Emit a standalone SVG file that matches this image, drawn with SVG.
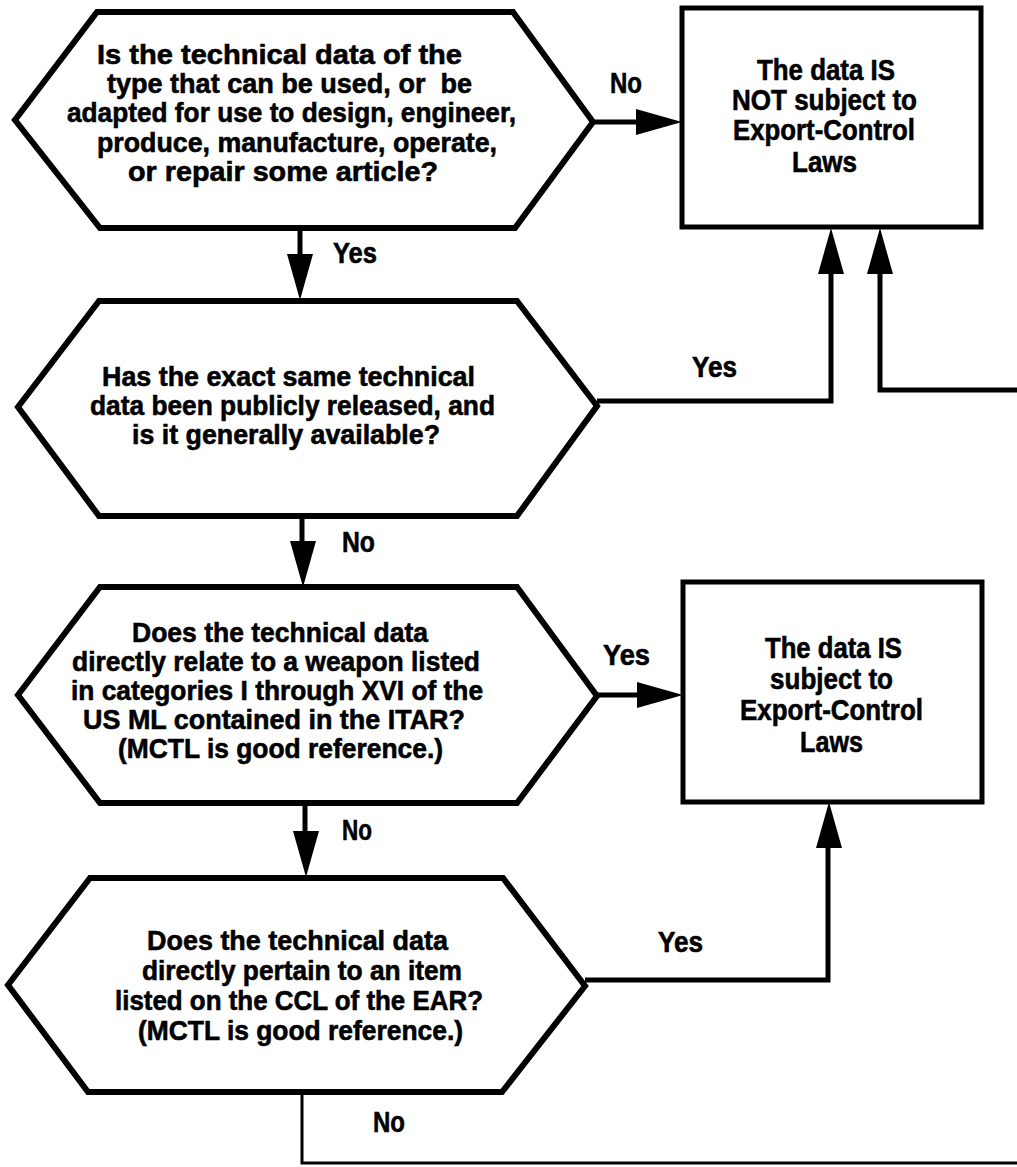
<svg xmlns="http://www.w3.org/2000/svg" xmlns:xlink="http://www.w3.org/1999/xlink" width="1017" height="1167" viewBox="0 0 1017 1167">
  <style>
    .shape { fill: #fff; stroke: #000; stroke-width: 6; stroke-linejoin: miter; }
    .box { fill: #fff; stroke: #000; stroke-width: 5; }
    .wire { fill: none; stroke: #000; stroke-width: 5; stroke-linejoin: miter; }
    .thin { fill: none; stroke: #000; stroke-width: 3; }
    .head { fill: #000; }
    text { font-family: "Liberation Sans", Arial, Helvetica, sans-serif; font-weight: bold; fill: #000; stroke: #000; stroke-width: 0.6; }
    .q { font-size: 28px; }
    .r { font-size: 29.5px; }
    .lbl { font-size: 29px; }
  </style>
  <defs>
    <!-- arrowhead pointing along +x, tip at origin -->
    <path id="head" class="head" d="M0,0 L-46,-13 L-46,13 Z"/>
  </defs>

  <rect width="1017" height="1167" fill="#fff"/>

  <!-- connectors -->
  <g id="connectors">
    <!-- Q1 No -> not subject -->
    <line class="wire" x1="593" y1="122" x2="642" y2="122"/>
    <use xlink:href="#head" transform="translate(682,122)"/>
    <!-- Q1 Yes -> Q2 -->
    <line class="wire" x1="300" y1="228" x2="300" y2="258"/>
    <use xlink:href="#head" transform="translate(300,300) rotate(90)"/>
    <!-- Q2 Yes -> not subject -->
    <polyline class="wire" points="597,401 831,401 831,266"/>
    <use xlink:href="#head" transform="translate(831,228) rotate(-90)"/>
    <!-- line entering from the right -> not subject -->
    <polyline class="wire" points="1017,390 880,390 880,266"/>
    <use xlink:href="#head" transform="translate(880,228) rotate(-90)"/>
    <!-- Q2 No -> Q3 -->
    <line class="wire" x1="302" y1="516" x2="302" y2="545"/>
    <use xlink:href="#head" transform="translate(303,587) rotate(90)"/>
    <!-- Q3 Yes -> subject -->
    <line class="wire" x1="597" y1="695" x2="643" y2="695"/>
    <use xlink:href="#head" transform="translate(683,695)"/>
    <!-- Q3 No -> Q4 -->
    <line class="wire" x1="305" y1="803" x2="305" y2="836"/>
    <use xlink:href="#head" transform="translate(306,877) rotate(90)"/>
    <!-- Q4 Yes -> subject -->
    <polyline class="wire" points="585,980 828,980 828,840"/>
    <use xlink:href="#head" transform="translate(829,802) rotate(-90)"/>
    <!-- Q4 No -> off to the right -->
    <polyline class="thin" points="302,1092 302,1163 1017,1163"/>

    <!-- branch labels -->
    <text class="lbl" x="610" y="93" textLength="32" lengthAdjust="spacingAndGlyphs">No</text>
    <text class="lbl" x="333" y="263" textLength="44" lengthAdjust="spacingAndGlyphs">Yes</text>
    <text class="lbl" x="692" y="377" textLength="45" lengthAdjust="spacingAndGlyphs">Yes</text>
    <text class="lbl" x="342" y="552" textLength="33" lengthAdjust="spacingAndGlyphs">No</text>
    <text class="lbl" x="603" y="665" textLength="47" lengthAdjust="spacingAndGlyphs">Yes</text>
    <text class="lbl" x="342" y="840" textLength="30" lengthAdjust="spacingAndGlyphs">No</text>
    <text class="lbl" x="658" y="952" textLength="45" lengthAdjust="spacingAndGlyphs">Yes</text>
    <text class="lbl" x="373" y="1132" textLength="32" lengthAdjust="spacingAndGlyphs">No</text>
  </g>

  <!-- Q1: usable technical data? -->
  <g id="q1">
    <polygon class="shape" points="97,12 513,12 593,122 515,228 100,228 15,120"/>
    <text class="q" x="97" y="64" textLength="365" lengthAdjust="spacingAndGlyphs">Is the technical data of the</text>
    <text class="q" x="107" y="93" textLength="365" lengthAdjust="spacingAndGlyphs" style="white-space:pre">type that can be used, or  be</text>
    <text class="q" x="67" y="122" textLength="449" lengthAdjust="spacingAndGlyphs">adapted for use to design, engineer,</text>
    <text class="q" x="97" y="152" textLength="400" lengthAdjust="spacingAndGlyphs">produce, manufacture, operate,</text>
    <text class="q" x="128" y="181" textLength="310" lengthAdjust="spacingAndGlyphs">or repair some article?</text>
  </g>

  <!-- Q2: publicly released? -->
  <g id="q2">
    <polygon class="shape" points="99,301 517,301 597,406 517,516 99,516 18,407"/>
    <text class="q" x="102" y="386" textLength="373" lengthAdjust="spacingAndGlyphs">Has the exact same technical</text>
    <text class="q" x="90" y="415" textLength="405" lengthAdjust="spacingAndGlyphs">data been publicly released, and</text>
    <text class="q" x="132" y="444" textLength="308" lengthAdjust="spacingAndGlyphs">is it generally available?</text>
  </g>

  <!-- Q3: US Munitions List -->
  <g id="q3">
    <polygon class="shape" points="100,587 517,587 597,696 517,803 100,803 18,695"/>
    <text class="q" x="132" y="642" textLength="296" lengthAdjust="spacingAndGlyphs">Does the technical data</text>
    <text class="q" x="72" y="671" textLength="408" lengthAdjust="spacingAndGlyphs">directly relate to a weapon listed</text>
    <text class="q" x="71" y="700" textLength="412" lengthAdjust="spacingAndGlyphs">in categories I through XVI of the</text>
    <text class="q" x="83" y="729" textLength="382" lengthAdjust="spacingAndGlyphs">US ML contained in the ITAR?</text>
    <text class="q" x="118" y="758" textLength="325" lengthAdjust="spacingAndGlyphs">(MCTL is good reference.)</text>
  </g>

  <!-- Q4: Commerce Control List -->
  <g id="q4">
    <polygon class="shape" points="90,878 503,878 585,986 502,1092 88,1092 8,985"/>
    <text class="q" x="147" y="950" textLength="301" lengthAdjust="spacingAndGlyphs">Does the technical data</text>
    <text class="q" x="142" y="980" textLength="320" lengthAdjust="spacingAndGlyphs">directly pertain to an item</text>
    <text class="q" x="115" y="1010" textLength="368" lengthAdjust="spacingAndGlyphs">listed on the CCL of the EAR?</text>
    <text class="q" x="138" y="1040" textLength="325" lengthAdjust="spacingAndGlyphs">(MCTL is good reference.)</text>
  </g>

  <!-- outcome: not subject -->
  <g id="not-subject">
    <rect class="box" x="682" y="8" width="299" height="219"/>
    <text class="r" x="757" y="80" textLength="138" lengthAdjust="spacingAndGlyphs">The data IS</text>
    <text class="r" x="732" y="110" textLength="185" lengthAdjust="spacingAndGlyphs">NOT subject to</text>
    <text class="r" x="733" y="140" textLength="182" lengthAdjust="spacingAndGlyphs">Export-Control</text>
    <text class="r" x="792" y="172" textLength="65" lengthAdjust="spacingAndGlyphs">Laws</text>
  </g>

  <!-- outcome: subject -->
  <g id="subject">
    <rect class="box" x="683" y="582" width="299" height="220"/>
    <text class="r" x="765" y="658" textLength="137" lengthAdjust="spacingAndGlyphs">The data IS</text>
    <text class="r" x="770" y="689" textLength="123" lengthAdjust="spacingAndGlyphs">subject to</text>
    <text class="r" x="740" y="720" textLength="183" lengthAdjust="spacingAndGlyphs">Export-Control</text>
    <text class="r" x="800" y="752" textLength="63" lengthAdjust="spacingAndGlyphs">Laws</text>
  </g>
</svg>
